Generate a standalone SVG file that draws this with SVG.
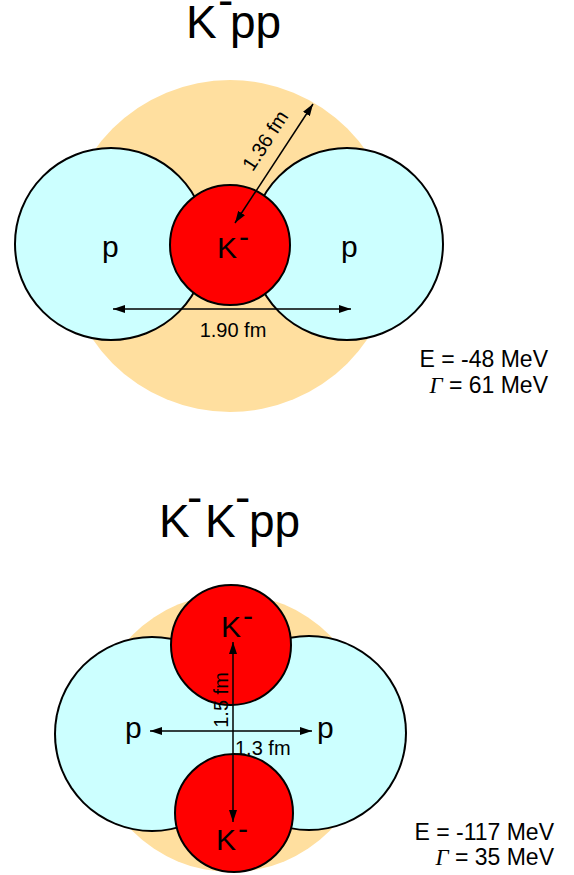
<svg xmlns="http://www.w3.org/2000/svg" width="574" height="875" viewBox="0 0 574 875">
<style>
text{font-family:"Liberation Sans",Arial,sans-serif;fill:#000}
.title{font-size:46px}
.lbl{font-size:30px}
.dim{font-size:20px}
.en{font-size:23px;text-anchor:end}
.gam{font-family:"Liberation Serif","Times New Roman",serif;font-style:italic}
.halo{fill:#FFDF9F}
.p{fill:#CCFFFF;stroke:#000;stroke-width:2}
.pline{fill:none;stroke:#000;stroke-width:4}
.pfill{fill:#CCFFFF;stroke:none}
.k{fill:#FF0000;stroke:#000;stroke-width:2}
.arr{stroke:#000;stroke-width:1.5;fill:none;marker-start:url(#ah);marker-end:url(#ah)}
</style>
<defs>
<marker id="ah" viewBox="0 0 12 8" refX="12" refY="4" markerWidth="12" markerHeight="8" markerUnits="userSpaceOnUse" orient="auto-start-reverse">
<path d="M0,0 L12,4 L0,8 Z" fill="#000"/>
</marker>
</defs>

<!-- Top diagram: K-pp -->
<text class="title" x="186" y="38">K<tspan x="218" dy="-22">-</tspan><tspan x="230" dy="22">pp</tspan></text>
<g id="halo1"><circle class="halo" cx="230" cy="246" r="166"/></g>
<g id="p1-left"><circle class="p" cx="111" cy="244" r="96"/><text class="lbl" x="102" y="257">p</text></g>
<g id="p1-right"><circle class="p" cx="347" cy="244" r="96"/><text class="lbl" x="341" y="257">p</text></g>
<g id="k1"><circle class="k" cx="230" cy="245" r="60"/><text class="lbl" x="217" y="258">K<tspan dx="2" dy="-11">-</tspan></text></g>

<!-- Bottom diagram: K-K-pp -->
<text class="title" x="159" y="537">K<tspan x="187" dy="-23.6">-</tspan><tspan x="205" dy="23.6">K</tspan><tspan x="235" dy="-23.6">-</tspan><tspan x="249" dy="23.6">pp</tspan></text>
<g id="halo2"><circle class="halo" cx="231" cy="733" r="139"/></g>
<g id="p2-outline">
<circle class="pline" cx="152" cy="734" r="96"/>
<circle class="pline" cx="309" cy="733" r="96"/>
</g>
<g id="p2-left"><circle class="pfill" cx="152" cy="734" r="96"/></g>
<g id="p2-right"><circle class="pfill" cx="309" cy="733" r="96"/></g>
<text class="lbl" x="125" y="738">p</text>
<text class="lbl" x="317" y="738">p</text>
<g id="k2-top"><circle class="k" cx="231" cy="645" r="60"/><text class="lbl" x="221" y="637">K<tspan dx="2" dy="-11">-</tspan></text></g>
<g id="k2-bottom"><circle class="k" cx="234" cy="813" r="59"/><text class="lbl" x="216" y="850">K<tspan dx="2" dy="-11">-</tspan></text></g>

<g id="connectors">
<line class="arr" x1="235" y1="223" x2="313" y2="104"/>
<line class="arr" x1="113" y1="309" x2="351" y2="309"/>
<line class="arr" x1="233" y1="642" x2="233" y2="822"/>
<line class="arr" x1="150" y1="731" x2="312" y2="731"/>
</g>

<g id="dimlabels">
<text class="dim" text-anchor="middle" transform="translate(266,141) rotate(-57)" y="6">1.36 fm</text>
<text class="dim" text-anchor="middle" x="233" y="337">1.90 fm</text>
<text class="dim" text-anchor="middle" transform="translate(228,700) rotate(-90)">1.5 fm</text>
<text class="dim" x="235" y="755">1.3 fm</text>
</g>

<g id="energies">
<text class="en" x="548" y="367">E = -48 MeV</text>
<text class="en" x="548" y="393"><tspan class="gam">Γ</tspan> = 61 MeV</text>
<text class="en" x="554" y="840">E = -117 MeV</text>
<text class="en" x="554" y="865"><tspan class="gam">Γ</tspan> = 35 MeV</text>
</g>
</svg>
